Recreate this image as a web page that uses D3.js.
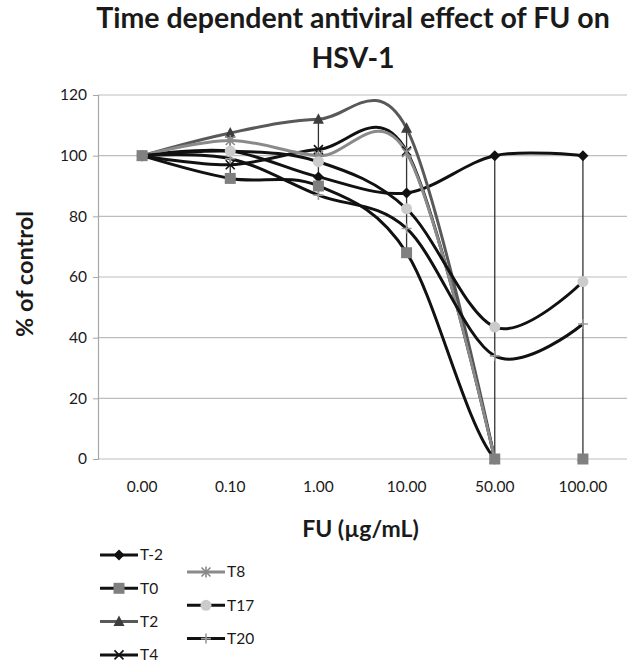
<!DOCTYPE html>
<html lang="en">
<head>
  <meta charset="utf-8">
  <style>
    body { margin: 0; background: #fff; }
    text { font-family: Lato, "Open Sans", sans-serif; fill: #1a1a1a; }
  </style>
</head>
<body>
<script src="https://cdn.jsdelivr.net/npm/d3@7/dist/d3.min.js"></script>
<script>

  // data
  var categories = ["0.00", "0.10", "1.00", "10.00", "50.00", "100.00"];
  var seriesNames = ["T-2", "T0", "T2", "T4", "T8", "T17", "T20"];
  var tMinus2 = [100, 101.5, 93, 87.7, 100, 100];
  var t0 = [100, 92.5, 90, 68, 0, 0];
  var t2 = [100, 107.5, 112, 109, 0, null];
  var t4 = [100, 97, 102, 101.5, 0, null];
  var t8 = [100, 105, 100, 101, 0, null];
  var t17 = [100, 101.5, 98, 82.5, 43.5, 58.5];
  var t20 = [100, 99, 87, 76, 34, 44.5];
  var yTicks = [0, 20, 40, 60, 80, 100, 120];

  var seriesValues = [tMinus2, t0, t2, t4, t8, t17, t20];

  var styles = {
    "T-2": {line: "#111", marker: "diamond", fill: "#111", stroke: "#111"},
    "T0":  {line: "#111", marker: "square", fill: "#808080", stroke: "none"},
    "T2":  {line: "#595959", marker: "triangle", fill: "#3d3d3d", stroke: "none"},
    "T4":  {line: "#111", marker: "x", fill: "none", stroke: "#111"},
    "T8":  {line: "#8a8a8a", marker: "asterisk", fill: "none", stroke: "#8a8a8a"},
    "T17": {line: "#111", marker: "circle", fill: "#cbcbcb", stroke: "none"},
    "T20": {line: "#111", marker: "plus", fill: "none", stroke: "#9a9a9a"}
  };

  var series = seriesNames.map(function(name, i) {
    return {name: name, values: seriesValues[i].map(function(v, j) { return {cat: categories[j], value: v}; })};
  });

  var margin = {top: 95, right: 2, bottom: 205, left: 98},
  width = 629 - margin.left - margin.right,
  height = 664 - margin.top - margin.bottom;

  var scaleX = d3.scaleBand().domain(categories).range([0, width]).padding(0);
  var scaleY = d3.scaleLinear().domain([0, 120]).range([height, 0]);

  var svg = d3.select("body").append("svg")
  .attr("width", 629)
  .attr("height", 664);

  // title
  var title = svg.append("text")
  .attr("x", 353)
  .attr("text-anchor", "middle")
  .attr("font-weight", "bold")
  .attr("font-size", 28.5);
  title.append("tspan").attr("x", 353).attr("y", 28).text("Time dependent antiviral effect of FU on");
  title.append("tspan").attr("x", 353).attr("y", 68).text("HSV-1");

  var g = svg.append("g")
  .attr("transform", "translate(" + margin.left + "," + margin.top + ")");

  g.append("defs").append("clipPath").attr("id", "plot-clip")
  .append("rect").attr("x", -2).attr("y", -2).attr("width", width + 4).attr("height", height + 3.5);

  // gridlines
  g.append("g").selectAll("line")
  .data(yTicks)
  .enter().append("line")
  .attr("x1", 0).attr("x2", width)
  .attr("y1", function(d) { return scaleY(d); })
  .attr("y2", function(d) { return scaleY(d); })
  .attr("stroke", "#bdbdbd")
  .attr("stroke-width", 1.2);

  var yAxis = d3.axisLeft(scaleY).tickValues(yTicks).tickSize(5).tickPadding(6);
  var yg = g.append("g").call(yAxis);
  yg.select(".domain").attr("stroke", "#a8a8a8").attr("stroke-width", 1.2);
  yg.selectAll(".tick line").attr("stroke", "#a8a8a8");
  yg.selectAll(".tick text").attr("font-size", 15.5).attr("font-family", "Lato").attr("fill", "#222");

  var xAxis = d3.axisBottom(scaleX).tickSize(0).tickPadding(22);
  var xg = g.append("g").attr("transform", "translate(0," + height + ")").call(xAxis);
  xg.select(".domain").remove();
  xg.selectAll(".tick text").attr("font-size", 15.5).attr("font-family", "Lato").attr("fill", "#222");

  // axis titles
  g.append("text")
  .attr("x", width / 2 - 2)
  .attr("y", height + 78)
  .attr("text-anchor", "middle")
  .attr("font-weight", "bold")
  .attr("font-size", 23)
  .text("FU (µg/mL)");

  g.append("text")
  .attr("transform", "rotate(-90)")
  .attr("x", -(scaleY(61)))
  .attr("y", -65)
  .attr("text-anchor", "middle")
  .attr("font-weight", "bold")
  .attr("font-size", 23.5)
  .text("% of control");

  var cx = function(d) { return scaleX(d.cat) + scaleX.bandwidth() / 2; };

  // high-low lines across series
  var hiLo = categories.map(function(c, j) {
    var vals = seriesValues.map(function(s) { return s[j]; }).filter(function(v) { return v != null; });
    return {cat: c, hi: d3.max(vals), lo: d3.min(vals)};
  });
  g.append("g").selectAll("line")
  .data(hiLo)
  .enter().append("line")
  .attr("x1", cx).attr("x2", cx)
  .attr("y1", function(d) { return scaleY(d.hi); })
  .attr("y2", function(d) { return scaleY(d.lo); })
  .attr("stroke", "#333")
  .attr("stroke-width", 1.3);

  var line = d3.line()
  .defined(function(d) { return d.value != null; })
  .x(cx)
  .y(function(d) { return scaleY(d.value); })
  .curve(d3.curveCardinal.tension(0));

  g.append("g").attr("clip-path", "url(#plot-clip)")
  .selectAll("path")
  .data(series)
  .enter().append("path")
  .attr("d", function(d) { return line(d.values); })
  .attr("fill", "none")
  .attr("stroke", function(d) { return styles[d.name].line; })
  .attr("stroke-width", 3);

  function markerPath(type) {
    if (type == "diamond") return "M0,-5.5L5.5,0L0,5.5L-5.5,0Z";
    if (type == "square") return "M-5.5,-5.5H5.5V5.5H-5.5Z";
    if (type == "triangle") return "M0,-6L5.5,4.5L-5.5,4.5Z";
    if (type == "x") return "M-4.5,-4.5L4.5,4.5M-4.5,4.5L4.5,-4.5";
    if (type == "asterisk") return "M-4.5,-4.5L4.5,4.5M-4.5,4.5L4.5,-4.5M0,-5.5V5.5";
    if (type == "plus") return "M0,-5V5M-5,0H5";
    return d3.symbol(d3.symbolCircle, 95)();
  }

  function drawMarker(sel, name) {
    var st = styles[name];
    sel.append("path")
    .attr("d", markerPath(st.marker))
    .attr("fill", st.fill)
    .attr("stroke", st.stroke)
    .attr("stroke-width", st.fill == "none" ? 1.6 : 0);
  }

  // markers, T0 squares on top
  var markerOrder = ["T-2", "T2", "T4", "T8", "T20", "T17", "T0"];
  markerOrder.forEach(function(name) {
    var s = series.filter(function(d) { return d.name == name; })[0];
    g.append("g").selectAll("g")
    .data(s.values.filter(function(d) { return d.value != null; }))
    .enter().append("g")
    .attr("transform", function(d) { return "translate(" + cx(d) + "," + scaleY(d.value) + ")"; })
    .each(function() { drawMarker(d3.select(this), name); });
  });

  // legend, two columns
  var legend = svg.selectAll(".legend")
  .data(seriesNames)
  .enter().append("g")
  .attr("class", "legend")
  .attr("transform", function(d, i) {
    if (i < 4) return "translate(100," + (555 + i * 33.3) + ")";
    return "translate(187," + (572 + (i - 4) * 33.3) + ")";
  });

  legend.append("line")
  .attr("x1", 0).attr("x2", 38)
  .attr("stroke", function(d) { return styles[d].line; })
  .attr("stroke-width", 3);

  legend.append("g")
  .attr("transform", "translate(19,0)")
  .each(function(d) { drawMarker(d3.select(this), d); });

  legend.append("text")
  .attr("x", 40)
  .attr("dy", ".35em")
  .attr("font-size", 15.5)
  .text(function(d) { return d; });

</script>
</body>
</html>
